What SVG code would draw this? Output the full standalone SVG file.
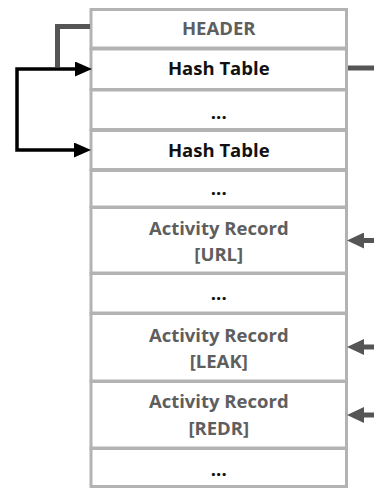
<svg xmlns="http://www.w3.org/2000/svg" width="374" height="488" viewBox="0 0 374 488">
<style>
.cell{fill:#ffffff;stroke:#b3b3b3;stroke-width:3}
text{font-family:"Open Sans","Liberation Sans",sans-serif;font-weight:700;font-size:18.5px;text-anchor:middle}
.g{fill:#5e5e5e}
.k{fill:#111111}
.c-gray{fill:none;stroke:#555555;stroke-width:5}
.c-black{fill:none;stroke:#000000;stroke-width:3.5}
</style>
<defs>
<marker id="ahBlack" markerUnits="userSpaceOnUse" viewBox="0 0 17 15" refX="0" refY="7.5" markerWidth="17" markerHeight="15" orient="auto-start-reverse">
<path d="M0,0 L17,7.5 L0,15 z" fill="#000000"/>
</marker>
<marker id="ahGray" markerUnits="userSpaceOnUse" viewBox="0 0 17 16" refX="0" refY="8" markerWidth="17" markerHeight="16" orient="auto">
<path d="M0,0 L17,8 L0,16 z" fill="#555555"/>
</marker>
</defs>
<rect width="374" height="488" fill="#ffffff"/>
<g id="row-header"><rect class="cell" x="91" y="9.5" width="255.5" height="38.5"/><text class="g" x="218.75" y="35">HEADER</text></g>
<g id="row-hash1"><rect class="cell" x="91" y="49" width="255.5" height="40.5"/><text class="k" x="218.75" y="75">Hash Table</text></g>
<g id="row-dots1"><rect class="cell" x="91" y="90" width="255.5" height="39.5"/><text class="k" x="218.75" y="119">...</text></g>
<g id="row-hash2"><rect class="cell" x="91" y="130.5" width="255.5" height="39"/><text class="k" x="218.75" y="156.5">Hash Table</text></g>
<g id="row-dots2"><rect class="cell" x="91" y="170.5" width="255.5" height="36.5"/><text class="k" x="218.75" y="195">...</text></g>
<g id="row-url"><rect class="cell" x="91" y="207.5" width="255.5" height="65.5"/><text class="g" x="218.75" y="235">Activity Record</text><text class="g" x="218.75" y="261">[URL]</text></g>
<g id="row-dots3"><rect class="cell" x="91" y="273.5" width="255.5" height="39.5"/><text class="k" x="218.75" y="300">...</text></g>
<g id="row-leak"><rect class="cell" x="91" y="313.5" width="255.5" height="67.5"/><text class="g" x="218.75" y="341.5">Activity Record</text><text class="g" x="218.75" y="368">[LEAK]</text></g>
<g id="row-redr"><rect class="cell" x="91" y="381.5" width="255.5" height="66.5"/><text class="g" x="218.75" y="407.5">Activity Record</text><text class="g" x="218.75" y="435">[REDR]</text></g>
<g id="row-dots4"><rect class="cell" x="91" y="448.5" width="255.5" height="38"/><text class="k" x="218.75" y="476">...</text></g>
<g id="connectors">
<path class="c-gray" d="M90 26.5 H57.5 V67"/>
<path class="c-black" d="M75 69 H17 V150 H74" marker-start="url(#ahBlack)" marker-end="url(#ahBlack)"/>
<path class="c-gray" d="M348 68 H374"/>
<path class="c-gray" d="M374 240.5 H364" marker-end="url(#ahGray)"/>
<path class="c-gray" d="M374 347 H364" marker-end="url(#ahGray)"/>
<path class="c-gray" d="M374 415 H364" marker-end="url(#ahGray)"/>
</g>
</svg>
